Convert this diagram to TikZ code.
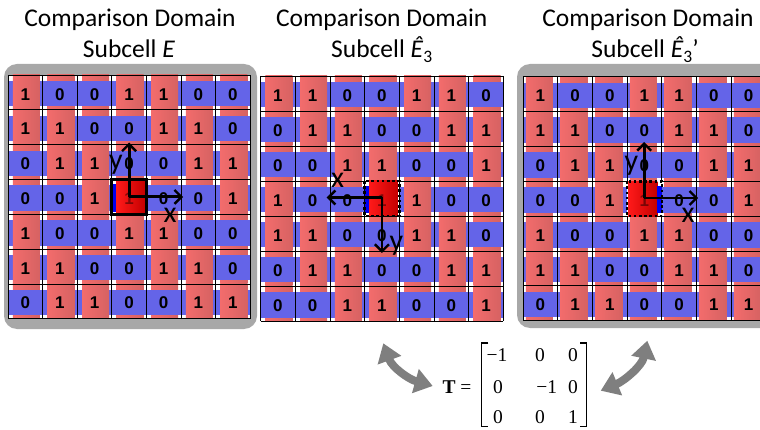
\documentclass[tikz,border=0pt]{standalone}
\usepackage{fontspec}
\setmainfont{Carlito}
\newfontfamily\numfont{Liberation Sans}
\newfontfamily\tnr{Liberation Serif}
\usetikzlibrary{arrows.meta}
\definecolor{cred1}{HTML}{F36C6C}
\definecolor{cred2}{HTML}{D66262}
\definecolor{cblue}{HTML}{6464E8}
\definecolor{bgray}{HTML}{A8A8A8}
\definecolor{agray}{HTML}{7F7F7F}
\definecolor{hred1}{HTML}{FF1A1A}
\definecolor{hred2}{HTML}{C40000}
\definecolor{hblue}{HTML}{0000F0}
\tikzset{
  numtxt/.style={font=\numfont\bfseries\fontsize{17}{17}\selectfont, inner sep=0pt},
  gridline/.style={draw=black, line width=0.8pt},
  title/.style={font=\fontsize{25.5}{25.5}\selectfont, inner sep=0pt, anchor=base},
  axlabel/.style={font=\fontsize{30}{30}\selectfont, inner sep=0pt},
  axisarrow/.style={line width=2.8pt, -{Straight Barb[length=7pt,width=14pt,line width=2.4pt]}},
  solidframe/.style={draw=black, line width=2.8pt},
  dotframe/.style={draw=black, line width=2.6pt, dash pattern=on 2.6pt off 2.6pt},
  garrow/.style={draw=agray, line width=8pt, {Triangle[length=18pt,width=24pt]}-{Triangle[length=18pt,width=24pt]}},
  mtx/.style={font=\tnr\fontsize{19.5}{19.5}\selectfont, inner sep=0pt},
  bracket/.style={draw=black, line width=1.2pt}
}
% #1 X0, #2 Y0, #3 w, #4 h, #5 red left frac, #6 red right frac, #7 name, #8 rows
\newcommand\weavepanel[8]{%
  \fill[white] (#1,#2) rectangle ({#1+7*#3},{#2+7*#4});
  \foreach \rowv [count=\j from 0] in {#8} {%
    \foreach \v [count=\i from 0] in \rowv {%
      \pgfmathsetmacro\xa{#1+\i*#3}%
      \pgfmathsetmacro\ya{#2+\j*#4}%
      \ifnum\v=1\relax
        \fill[cblue] (\xa,{\ya+0.17*#4}) rectangle ({\xa+#3},{\ya+0.9*#4});
        \shade[left color=cred1,right color=cred2] ({\xa+#5*#3},\ya) rectangle ({\xa+#6*#3},{\ya+#4});
      \else
        \shade[left color=cred1,right color=cred2] ({\xa+#5*#3},\ya) rectangle ({\xa+#6*#3},{\ya+#4});
        \fill[cblue] (\xa,{\ya+0.17*#4}) rectangle ({\xa+#3},{\ya+0.9*#4});
      \fi
      \node[numtxt] (#7-\i-\j) at ({\xa+0.5*#3},{\ya+0.55*#4}) {\v};
    }
  }
  \foreach \k in {0,...,7} {%
    \draw[gridline] ({#1+\k*#3},#2) -- ({#1+\k*#3},{#2+7*#4});
    \draw[gridline] (#1,{#2+\k*#4}) -- ({#1+7*#3},{#2+\k*#4});
  }
}
\begin{document}
\begin{tikzpicture}[x=1pt,y=-1pt]
\useasboundingbox (0,0) rectangle (760,430);
\clip (0,0) rectangle (760,430);
\fill[white] (0,0) rectangle (760,430);

% gray backgrounds
\fill[bgray, rounded corners=13pt] (4,64) rectangle (257,329);
\fill[bgray, rounded corners=13pt] (517,64) rectangle (780,328);

% titles
\node[title] (t1a) at (130,26.7) {Comparison Domain};
\node[title] (t1b) at (129,57.3) {Subcell \textit{E}};
\node[title] (t2a) at (381.7,26.7) {Comparison Domain};
\node[title] (t2b) at (381.7,57.3) {Subcell \textit{Ê}\raisebox{-0.22em}{\fontsize{17.5}{17.5}\selectfont 3}};
\node[title] (t3a) at (648,26.7) {Comparison Domain};
\node[title] (t3b) at (645,57.3) {Subcell \textit{Ê}\raisebox{-0.22em}{\fontsize{17.5}{17.5}\selectfont 3}’};

% grids
\weavepanel{8}{75}{34.6}{34.83}{0.14}{0.92}{pa}{{1,0,0,1,1,0,0},{1,1,0,0,1,1,0},{0,1,1,0,0,1,1},{0,0,1,1,0,0,1},{1,0,0,1,1,0,0},{1,1,0,0,1,1,0},{0,1,1,0,0,1,1}}
\weavepanel{260.5}{76}{34.7}{35}{0.14}{0.92}{pb}{{1,1,0,0,1,1,0},{0,1,1,0,0,1,1},{0,0,1,1,0,0,1},{1,0,0,1,1,0,0},{1,1,0,0,1,1,0},{0,1,1,0,0,1,1},{0,0,1,1,0,0,1}}
\weavepanel{523}{76.7}{34.7}{34.86}{0.08}{0.86}{pc}{{1,0,0,1,1,0,0},{1,1,0,0,1,1,0},{0,1,1,0,0,1,1},{0,0,1,1,0,0,1},{1,0,0,1,1,0,0},{1,1,0,0,1,1,0},{0,1,1,0,0,1,1}}

% highlighted cell, panel 1
\fill[white] (111.8,179.5) rectangle (146.4,214.3);
\fill[hblue] (112.8,184.4) rectangle (116.6,211.9);
\shade[left color=hred1,right color=hred2] (116.6,179.5) rectangle (145.0,214.3);
\node[numtxt, text=black, opacity=0.45] (ca) at (129.1,198.7) {1};
\draw[solidframe] (111.8,179.5) rectangle (146.4,214.3);

% highlighted cell, panel 2
\fill[white] (364.6,181) rectangle (399.3,216);
\fill[hblue] (364.8,185.9) rectangle (369.1,213.5);
\shade[left color=hred1,right color=hred2] (369.1,181) rectangle (397.9,216);
\node[numtxt, text=black, opacity=0.45] (cb) at (381.95,200.2) {1};
\draw[dotframe] (364.6,181) rectangle (399.3,216);

% highlighted cell, panel 3
\fill[white] (627.1,181.3) rectangle (661.8,216.2);
\shade[left color=hred1,right color=hred2] (628.1,181.3) rectangle (657.3,216.2);
\fill[hblue] (657.3,186.2) rectangle (661.6,212.7);
\node[numtxt, text=black, opacity=0.45] (cc) at (644.4,200.5) {1};
\draw[dotframe] (627.1,181.3) rectangle (661.8,216.2);

% axes panel 1
\coordinate (o1) at (129.1,196.9);
\coordinate (x1) at (183.1,196.9);
\coordinate (y1) at (129.1,142.5);
\draw[axisarrow] (o1) -- (x1);
\draw[axisarrow] (o1) -- (y1);
\node[axlabel] (lx1) at (170,215.5) {x};
\node[axlabel] (ly1) at (116,165) {y};

% axes panel 2
\coordinate (o2) at (381.9,197.5);
\coordinate (x2) at (326.7,197.5);
\coordinate (y2) at (381.9,253);
\draw[axisarrow] (o2) -- (x2);
\draw[axisarrow] (o2) -- (y2);
\node[axlabel] (lx2) at (337.5,180.5) {x};
\node[axlabel] (ly2) at (396.5,246) {y};

% axes panel 3
\coordinate (o3) at (644.2,198);
\coordinate (x3) at (698.2,198);
\coordinate (y3) at (644.2,142);
\draw[axisarrow] (o3) -- (x3);
\draw[axisarrow] (o3) -- (y3);
\node[axlabel] (lx3) at (688,215.5) {x};
\node[axlabel] (ly3) at (631.5,166) {y};

% matrix
\node[mtx, anchor=center] (teq) at (457,386.7) {\textbf{T} =};
\node[mtx] (m11) at (497,355) {−1};
\node[mtx] (m12) at (540,355) {0};
\node[mtx] (m13) at (573,355) {0};
\node[mtx] (m21) at (498,386.7) {0};
\node[mtx] (m22) at (546.7,386.7) {−1};
\node[mtx] (m23) at (573,386.7) {0};
\node[mtx] (m31) at (498,417) {0};
\node[mtx] (m32) at (540,417) {0};
\node[mtx] (m33) at (573,417) {1};
\draw[bracket] (488.4,343) -- (481.7,343) -- (481.7,426.7) -- (488.4,426.7);
\draw[bracket] (580,343) -- (586.7,343) -- (586.7,426.7) -- (580,426.7);

% gray double arrows
\coordinate (ga1) at (383.3,343.3);
\coordinate (ga2) at (432.7,386);
\coordinate (gb1) at (647.3,340.7);
\coordinate (gb2) at (600.7,390.7);
\draw[garrow] (ga1) .. controls (392,367) and (408,379) .. (ga2);
\draw[garrow] (gb1) .. controls (642,366) and (624,381) .. (gb2);
\end{tikzpicture}
\end{document}
